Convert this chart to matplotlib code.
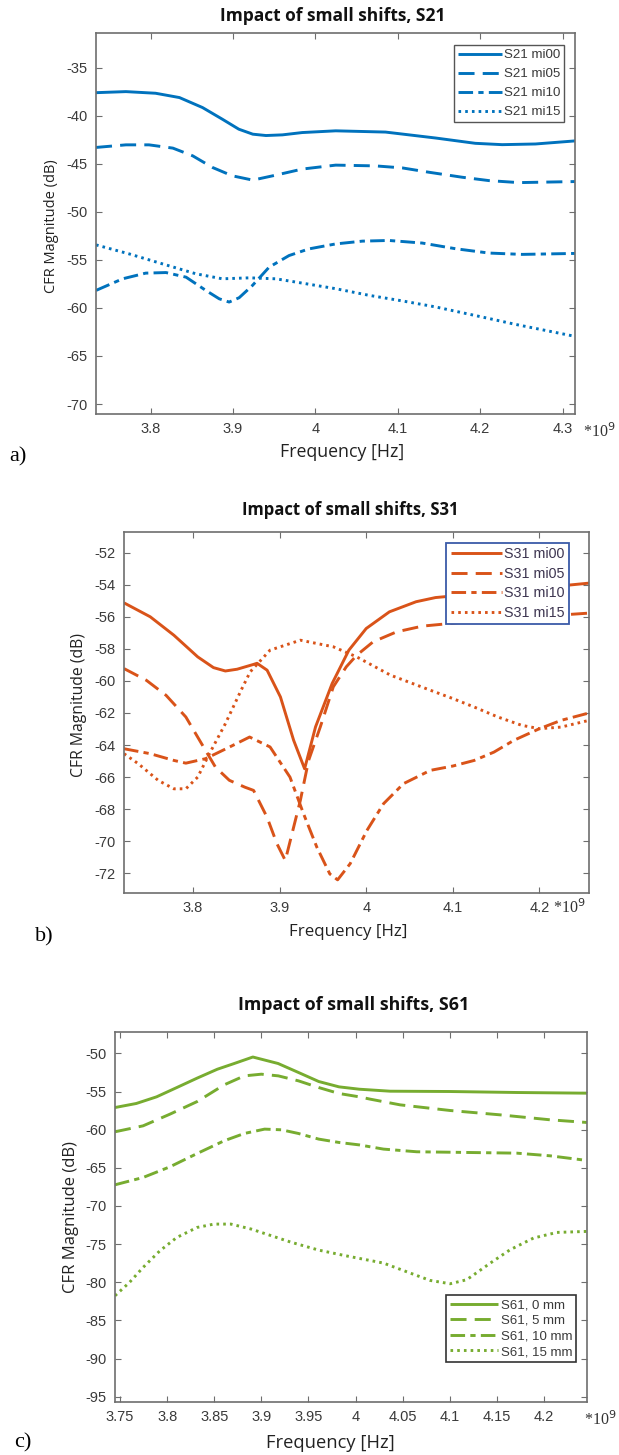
import matplotlib
matplotlib.use("Agg")
import matplotlib.pyplot as plt

W, H = 619, 1455

# ---------------- Data (frequency in GHz, magnitude in dB) ----------------
# Panel a: S21
a_f_mi00 = [3.7337, 3.770, 3.806, 3.835, 3.863, 3.887, 3.907, 3.924, 3.940, 3.960, 3.984, 4.0246, 4.085, 4.146, 4.194, 4.2266, 4.267, 4.315]
a_v_mi00 = [-37.60, -37.49, -37.66, -38.11, -39.15, -40.36, -41.40, -41.92, -42.06, -41.99, -41.75, -41.57, -41.70, -42.32, -42.87, -43.01, -42.94, -42.62]
a_f_mi05 = [3.7337, 3.770, 3.798, 3.827, 3.851, 3.875, 3.899, 3.924, 3.952, 3.984, 4.0246, 4.073, 4.1054, 4.1377, 4.178, 4.2105, 4.2468, 4.315]
a_v_mi05 = [-43.30, -43.03, -43.03, -43.37, -44.17, -45.38, -46.25, -46.70, -46.18, -45.55, -45.14, -45.22, -45.43, -45.88, -46.40, -46.75, -46.96, -46.85]
a_f_mi10 = [3.7337, 3.766, 3.794, 3.8186, 3.843, 3.867, 3.8832, 3.8953, 3.9074, 3.9236, 3.9438, 3.968, 3.992, 4.0246, 4.057, 4.0892, 4.1296, 4.170, 4.2105, 4.251, 4.315]
a_v_mi10 = [-58.18, -56.97, -56.38, -56.32, -56.80, -58.18, -59.05, -59.39, -58.94, -57.66, -55.76, -54.55, -53.86, -53.34, -53.05, -52.98, -53.25, -53.84, -54.29, -54.43, -54.33]
a_f_mi15 = [3.7337, 3.774, 3.8145, 3.855, 3.887, 3.920, 3.952, 3.984, 4.0246, 4.065, 4.1054, 4.146, 4.2105, 4.242, 4.315]
a_v_mi15 = [-53.44, -54.38, -55.42, -56.45, -56.97, -56.87, -56.97, -57.42, -58.00, -58.69, -59.27, -59.90, -61.10, -61.70, -62.96]
a_labels = ["S21 mi00", "S21 mi05", "S21 mi10", "S21 mi15"]

# Panel b: S31
b_f_mi00 = [3.7204, 3.7507, 3.778, 3.8055, 3.8237, 3.8374, 3.851, 3.8693, 3.874, 3.8856, 3.901, 3.9162, 3.9289, 3.9415, 3.9607, 3.980, 4.000, 4.0268, 4.0576, 4.080, 4.120, 4.160, 4.200, 4.2572]
b_v_mi00 = [-55.13, -56.00, -57.15, -58.50, -59.17, -59.38, -59.27, -58.98, -58.90, -59.33, -61.00, -63.70, -65.48, -62.87, -60.16, -58.08, -56.73, -55.69, -55.06, -54.80, -54.60, -54.40, -54.20, -53.90]
b_f_mi05 = [3.7204, 3.7462, 3.769, 3.7918, 3.810, 3.826, 3.842, 3.860, 3.870, 3.8855, 3.897, 3.9066, 3.924, 3.9335, 3.947, 3.962, 3.977, 3.989, 4.008, 4.035, 4.065, 4.120, 4.180, 4.2572]
b_v_mi05 = [-59.23, -59.96, -60.90, -62.25, -63.92, -65.38, -66.20, -66.63, -66.83, -68.50, -70.16, -71.20, -67.45, -64.96, -62.87, -60.37, -59.12, -58.40, -57.56, -56.94, -56.58, -56.30, -56.05, -55.77]
b_f_mi10 = [3.7204, 3.7507, 3.778, 3.7918, 3.8146, 3.842, 3.8654, 3.889, 3.912, 3.9277, 3.943, 3.958, 3.967, 3.9815, 4.0008, 4.020, 4.043, 4.074, 4.100, 4.1247, 4.1475, 4.1703, 4.200, 4.225, 4.2572]
b_v_mi10 = [-64.23, -64.54, -64.96, -65.13, -64.85, -64.13, -63.50, -64.12, -66.00, -68.29, -70.37, -72.04, -72.41, -71.40, -69.33, -67.66, -66.41, -65.58, -65.31, -64.96, -64.44, -63.71, -62.98, -62.46, -62.00]
b_f_mi15 = [3.7204, 3.737, 3.760, 3.778, 3.7918, 3.8055, 3.819, 3.8374, 3.8556, 3.866, 3.889, 3.924, 3.962, 3.989, 4.028, 4.074, 4.100, 4.1247, 4.152, 4.1795, 4.200, 4.225, 4.2572]
b_v_mi15 = [-64.54, -65.17, -66.21, -66.73, -66.73, -66.00, -64.54, -62.67, -60.58, -59.44, -58.08, -57.46, -57.87, -58.50, -59.64, -60.58, -61.10, -61.63, -62.25, -62.77, -62.98, -62.88, -62.46]
b_labels = ["S31 mi00", "S31 mi05", "S31 mi10", "S31 mi15"]

# Panel c: S61
c_f_0 = [3.7447, 3.7673, 3.7888, 3.8103, 3.8318, 3.8533, 3.8712, 3.891, 3.9178, 3.9393, 3.9609, 3.9824, 4.004, 4.0367, 4.100, 4.171, 4.2456]
c_v_0 = [-57.10, -56.57, -55.70, -54.48, -53.25, -52.08, -51.33, -50.48, -51.33, -52.50, -53.69, -54.39, -54.70, -54.96, -55.00, -55.13, -55.22]
c_f_5 = [3.7447, 3.7745, 3.803, 3.832, 3.8605, 3.882, 3.900, 3.918, 3.9393, 3.9609, 3.9824, 4.004, 4.0154, 4.0473, 4.1004, 4.1534, 4.2065, 4.2456]
c_v_5 = [-60.28, -59.50, -57.97, -56.31, -54.13, -52.95, -52.73, -52.95, -53.60, -54.48, -55.26, -55.70, -56.00, -56.75, -57.49, -58.06, -58.71, -59.06]
c_f_10 = [3.7447, 3.7745, 3.803, 3.832, 3.8605, 3.882, 3.9035, 3.9214, 3.9393, 3.9609, 3.9824, 4.004, 4.0296, 4.065, 4.118, 4.171, 4.2065, 4.2456]
c_v_10 = [-67.23, -66.27, -64.87, -63.12, -61.46, -60.50, -59.93, -60.02, -60.50, -61.24, -61.68, -62.00, -62.55, -62.90, -62.99, -63.08, -63.43, -64.04]
c_f_15 = [3.7447, 3.7601, 3.7745, 3.7924, 3.8103, 3.8318, 3.8497, 3.8677, 3.8892, 3.9107, 3.9322, 3.9609, 3.9895, 4.0296, 4.058, 4.079, 4.1004, 4.118, 4.143, 4.164, 4.1888, 4.2136, 4.2456]
c_v_15 = [-81.77, -80.02, -78.06, -75.87, -74.13, -72.82, -72.38, -72.38, -73.03, -73.91, -74.78, -75.79, -76.53, -77.49, -78.80, -79.76, -80.20, -79.67, -77.49, -75.74, -74.21, -73.47, -73.34]
c_labels = ["S61, 0 mm", "S61, 5 mm", "S61, 10 mm", "S61, 15 mm"]

a_xticks = [3.8, 3.9, 4.0, 4.1, 4.2, 4.3]
a_xticklabels = ["3.8", "3.9", "4", "4.1", "4.2", "4.3"]
a_yticks = [-70, -65, -60, -55, -50, -45, -40, -35]
b_xticks = [3.8, 3.9, 4.0, 4.1, 4.2]
b_xticklabels = ["3.8", "3.9", "4", "4.1", "4.2"]
b_yticks = [-72, -70, -68, -66, -64, -62, -60, -58, -56, -54, -52]
c_xticks = [3.75, 3.8, 3.85, 3.9, 3.95, 4.0, 4.05, 4.1, 4.15, 4.2]
c_xticklabels = ["3.75", "3.8", "3.85", "3.9", "3.95", "4", "4.05", "4.1", "4.15", "4.2"]
c_yticks = [-95, -90, -85, -80, -75, -70, -65, -60, -55, -50]

# ---------------- Styling ----------------
BLUE = "#0072BD"
ORANGE = "#D95319"
GREEN = "#77AC30"
styles = ["-", (0, (5.5, 2.8)), (0, (5, 1.8, 1.8, 1.8)), (0, (0.9, 1.4))]
TICKFONT = ["Liberation Sans Narrow", "Liberation Sans", "DejaVu Sans"]
SPINE = "#6e6e6e"
TXT = "#3a3a3a"

fig = plt.figure(figsize=(W / 100, H / 100), dpi=100)


def fx(px):
    return px / W


def fy(py):
    return 1 - py / H


def make_axes(l, r, t, b):
    return fig.add_axes([fx(l), fy(b), fx(r) - fx(l), fy(t) - fy(b)])


def style_axes(ax, xticks, xlabels, yticks, xlim, ylim):
    ax.set_xlim(*xlim)
    ax.set_ylim(*ylim)
    ax.set_xticks(xticks)
    ax.set_xticklabels(xlabels)
    ax.set_yticks(yticks)
    ax.set_yticklabels([str(v) for v in yticks])
    ax.tick_params(direction="in", length=4, width=0.8, colors=SPINE,
                   top=True, right=True, labelcolor=TXT, labelsize=10.5, pad=6)
    for lab in ax.get_xticklabels() + ax.get_yticklabels():
        lab.set_family(TICKFONT)
    for s in ax.spines.values():
        s.set_color(SPINE)
        s.set_linewidth(1.2)


def draw_series(ax, fs, vs, color, labels):
    for f, v, ls, lab in zip(fs, vs, styles, labels):
        ax.plot(f, v, color=color, lw=2.1, ls=ls, label=lab,
                solid_capstyle="butt", dash_capstyle="butt", solid_joinstyle="round")


# ---------- Panel a ----------
axa = make_axes(96, 575, 33, 414)
draw_series(axa, [a_f_mi00, a_f_mi05, a_f_mi10, a_f_mi15],
            [a_v_mi00, a_v_mi05, a_v_mi10, a_v_mi15], BLUE, a_labels)
style_axes(axa, a_xticks, a_xticklabels, a_yticks, (3.7337, 4.315), (-71.04, -31.39))
lga = axa.legend(loc="upper right", bbox_to_anchor=(fx(564), fy(45)),
                 bbox_transform=fig.transFigure, fancybox=False, framealpha=1,
                 edgecolor="#555555", handlelength=3.3, handletextpad=0.15,
                 borderpad=0.3, labelspacing=0.5, borderaxespad=0,
                 prop={"family": TICKFONT, "size": 9.6})
lga.get_frame().set_linewidth(1.0)
for t in lga.get_texts():
    t.set_color(TXT)

# ---------- Panel b ----------
axb = make_axes(124, 589, 532, 893)
draw_series(axb, [b_f_mi00, b_f_mi05, b_f_mi10, b_f_mi15],
            [b_v_mi00, b_v_mi05, b_v_mi10, b_v_mi15], ORANGE, b_labels)
style_axes(axb, b_xticks, b_xticklabels, b_yticks, (3.7204, 4.2572), (-73.23, -50.71))
lgb = axb.legend(loc="upper right", bbox_to_anchor=(fx(569), fy(543)),
                 bbox_transform=fig.transFigure, fancybox=False, framealpha=1,
                 edgecolor="#3a5ba8", handlelength=3.6, handletextpad=0.15,
                 borderpad=0.3, labelspacing=0.38, borderaxespad=0,
                 prop={"family": TICKFONT, "size": 10.3})
lgb.get_frame().set_linewidth(1.3)
for t in lgb.get_texts():
    t.set_color("#3d3550")

# ---------- Panel c ----------
axc = make_axes(115, 587, 1032, 1402)
draw_series(axc, [c_f_0, c_f_5, c_f_10, c_f_15],
            [c_v_0, c_v_5, c_v_10, c_v_15], GREEN, c_labels)
style_axes(axc, c_xticks, c_xticklabels, c_yticks, (3.7447, 4.2456), (-95.7, -47.2))
lgc = axc.legend(loc="lower right", bbox_to_anchor=(fx(576), fy(1362)),
                 bbox_transform=fig.transFigure, fancybox=False, framealpha=1,
                 edgecolor="#333333", handlelength=3.6, handletextpad=0.2,
                 borderpad=0.3, labelspacing=0.25, borderaxespad=0,
                 prop={"family": TICKFONT, "size": 9.5})
lgc.get_frame().set_linewidth(1.2)
for t in lgc.get_texts():
    t.set_color(TXT)

# ---------- Titles, labels ----------
TITLEFONT = ["Open Sans", "DejaVu Sans"]
LABELFONT = ["Open Sans", "DejaVu Sans"]
SERIF = ["Liberation Serif", "DejaVu Serif"]

for cx, cy, txt, fs in [(333, 16, "Impact of small shifts, S21", 12.5),
                        (350, 510, "Impact of small shifts, S31", 12),
                        (354, 1005, "Impact of small shifts, S61", 12.8)]:
    fig.text(fx(cx), fy(cy), txt, ha="center", va="center", fontsize=fs,
             fontweight="bold", family=TITLEFONT, color="#111111")

for cx, cy, fs in [(342, 452, 12.8), (348, 932, 12.2), (330, 1443, 13.2)]:
    fig.text(fx(cx), fy(cy), "Frequency [Hz]", ha="center", va="center",
             fontsize=fs, family=LABELFONT, color="#222222")

for cx, cy, fs in [(52, 226, 10.5), (79, 705, 11.3), (71, 1217, 12)]:
    fig.text(fx(cx), fy(cy), "CFR Magnitude (dB)", ha="center", va="center",
             rotation=90, fontsize=fs, family=LABELFONT, color="#222222")

for cx, cy, txt in [(583, 432, r"*10$^{9}$"), (553, 908, r"*10$^{9}$"), (584, 1420, r"*10$^{9}$")]:
    fig.text(fx(cx), fy(cy), txt, ha="left", va="center", fontsize=11.5,
             family=SERIF, color="#333333")

for cx, cy, txt in [(9, 457, "a)"), (35, 937, "b)"), (14, 1443, "c)")]:
    fig.text(fx(cx), fy(cy), txt, ha="left", va="center", fontsize=16,
             family=SERIF, color="black")

fig.savefig("out.png", dpi=100)
